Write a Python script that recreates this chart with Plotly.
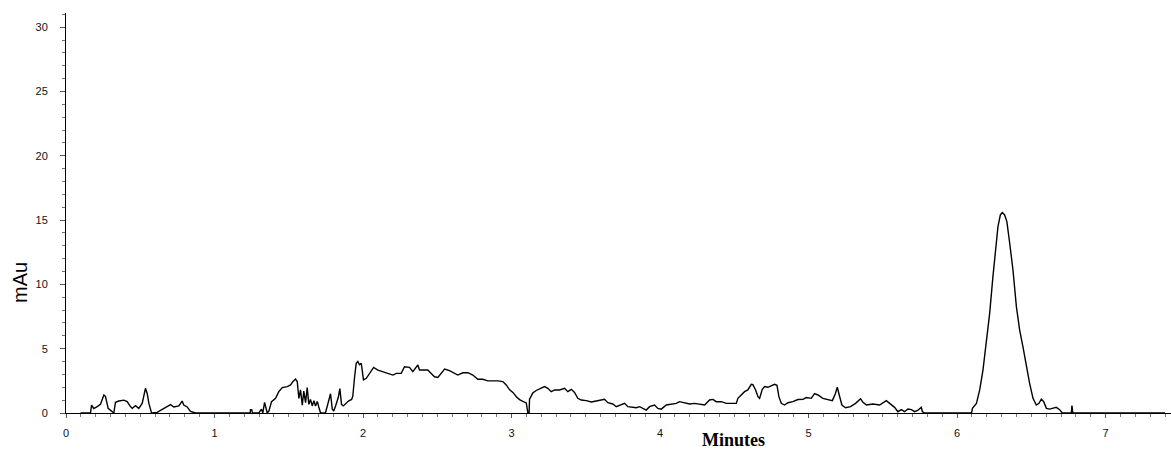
import plotly.graph_objects as go

# Retention time (minutes) and absorbance (mAu)
minutes = [
    0.098, 0.165, 0.172, 0.187, 0.210, 0.232, 0.255, 0.266, 0.284, 0.311, 0.322, 0.333,
    0.356, 0.389, 0.412, 0.434, 0.446, 0.468, 0.490, 0.513, 0.529, 0.535, 0.547, 0.558,
    0.576, 0.614, 0.648, 0.681, 0.704, 0.726, 0.760, 0.782, 0.793, 0.816, 0.838, 0.872,
    1.240, 1.242, 1.250, 1.256, 1.298, 1.316, 1.325, 1.337, 1.343, 1.355, 1.366, 1.384,
    1.411, 1.433, 1.456, 1.490, 1.512, 1.527, 1.545, 1.557, 1.568, 1.579, 1.591, 1.601,
    1.613, 1.624, 1.635, 1.646, 1.658, 1.669, 1.680, 1.692, 1.702, 1.714, 1.747, 1.759,
    1.770, 1.781, 1.793, 1.803, 1.815, 1.833, 1.844, 1.855, 1.867, 1.887, 1.904, 1.923,
    1.931, 1.943, 1.954, 1.965, 1.976, 1.988, 2.003, 2.022, 2.044, 2.071, 2.100, 2.133,
    2.167, 2.201, 2.224, 2.257, 2.279, 2.313, 2.335, 2.369, 2.380, 2.403, 2.436, 2.459,
    2.481, 2.504, 2.527, 2.549, 2.582, 2.616, 2.638, 2.672, 2.706, 2.739, 2.773, 2.807,
    2.840, 2.874, 2.908, 2.941, 2.964, 2.987, 3.009, 3.032, 3.054, 3.076, 3.099, 3.110,
    3.118, 3.121, 3.143, 3.166, 3.200, 3.222, 3.244, 3.267, 3.290, 3.323, 3.357, 3.379,
    3.402, 3.424, 3.446, 3.469, 3.503, 3.537, 3.570, 3.604, 3.626, 3.648, 3.682, 3.705,
    3.739, 3.761, 3.783, 3.817, 3.840, 3.862, 3.884, 3.907, 3.929, 3.963, 3.985, 4.008,
    4.042, 4.075, 4.109, 4.131, 4.165, 4.199, 4.232, 4.266, 4.300, 4.333, 4.356, 4.378,
    4.412, 4.446, 4.513, 4.524, 4.547, 4.569, 4.591, 4.614, 4.625, 4.643, 4.659, 4.670,
    4.688, 4.704, 4.726, 4.749, 4.771, 4.787, 4.800, 4.816, 4.838, 4.861, 4.894, 4.928,
    4.962, 4.985, 5.018, 5.040, 5.063, 5.096, 5.130, 5.160, 5.180, 5.193, 5.204, 5.224,
    5.249, 5.283, 5.316, 5.350, 5.366, 5.389, 5.433, 5.478, 5.523, 5.557, 5.579, 5.601,
    5.624, 5.646, 5.669, 5.692, 5.714, 5.734, 5.759, 5.766, 5.781,
    6.097, 6.103, 6.130, 6.152, 6.174, 6.197, 6.219, 6.241, 6.259, 6.275, 6.291, 6.304,
    6.320, 6.335, 6.354, 6.376, 6.399, 6.421, 6.443, 6.466, 6.488, 6.511, 6.533, 6.551,
    6.567, 6.583, 6.601, 6.623, 6.645, 6.668, 6.690, 6.708, 6.769, 6.773, 6.779, 7.400,
]
mau = [
    0.00, 0.00, 0.62, 0.35, 0.50, 0.68, 1.40, 1.28, 0.36, 0.10, 0.00, 0.83,
    0.93, 1.00, 0.88, 0.50, 0.36, 0.57, 0.36, 0.75, 1.79, 1.92, 1.50, 0.75,
    0.00, 0.05, 0.28, 0.47, 0.65, 0.47, 0.55, 0.93, 0.62, 0.47, 0.12, 0.00,
    0.00, 0.25, 0.25, 0.00, 0.00, 0.30, 0.00, 0.83, 0.50, 0.00, 0.15, 0.88,
    1.14, 1.66, 1.97, 2.05, 2.18, 2.44, 2.64, 2.44, 1.14, 1.80, 0.60, 1.70,
    0.80, 1.97, 0.67, 1.05, 0.55, 0.95, 0.55, 0.90, 0.47, 0.00, 0.00, 0.55,
    1.20, 1.50, 0.30, 0.15, 0.55, 1.20, 1.90, 0.67, 0.55, 0.80, 0.95, 1.05,
    1.30, 2.80, 3.86, 4.00, 3.75, 3.86, 2.57, 2.70, 3.08, 3.55, 3.34, 3.21,
    3.13, 2.95, 3.08, 3.08, 3.60, 3.55, 3.21, 3.73, 3.34, 3.34, 3.34, 3.08,
    2.82, 2.77, 3.08, 3.42, 3.29, 3.08, 2.95, 3.13, 3.13, 2.95, 2.62, 2.62,
    2.50, 2.50, 2.50, 2.44, 2.18, 1.80, 1.60, 1.27, 1.04, 0.90, 0.78, 0.00,
    0.00, 1.07, 1.55, 1.75, 1.93, 2.05, 1.92, 1.66, 1.79, 1.79, 1.92, 1.66,
    1.84, 1.60, 1.14, 1.01, 0.96, 0.86, 0.93, 1.01, 1.06, 0.80, 0.70, 0.49,
    0.62, 0.75, 0.49, 0.41, 0.41, 0.49, 0.36, 0.23, 0.49, 0.62, 0.36, 0.30,
    0.62, 0.70, 0.75, 0.88, 0.80, 0.70, 0.75, 0.67, 0.62, 1.01, 1.06, 0.88,
    0.88, 0.75, 0.75, 1.14, 1.40, 1.66, 1.79, 2.23, 2.20, 1.79, 1.27, 1.14,
    1.84, 2.05, 2.00, 2.10, 2.23, 2.15, 1.27, 0.75, 0.62, 0.80, 0.88, 1.05,
    1.06, 1.20, 1.14, 1.50, 1.40, 1.14, 1.06, 0.96, 1.50, 2.00, 1.50, 0.62,
    0.41, 0.49, 0.75, 1.10, 0.83, 0.62, 0.70, 0.62, 0.96, 0.62, 0.44, 0.10,
    0.26, 0.10, 0.31, 0.26, 0.10, 0.20, 0.44, 0.10, 0.00,
    0.00, 0.36, 0.75, 1.79, 3.34, 5.42, 7.75, 10.60, 12.67, 14.49, 15.40, 15.58,
    15.40, 14.88, 13.20, 11.12, 8.27, 6.45, 5.16, 3.60, 2.31, 1.14, 0.62, 0.75,
    1.07, 0.88, 0.36, 0.30, 0.36, 0.44, 0.26, 0.00, 0.00, 0.57, 0.00, 0.00,
]

x_tick_vals = [0, 1, 2, 3, 4, 5, 6, 7]
x_tick_text = ["0", "1", "2", "3", "4", "5", "6", "7"]
x_half_ticks = [0.5, 1.5, 2.5, 3.5, 4.5, 5.5, 6.5]
y_tick_vals = [0, 5, 10, 15, 20, 25, 30]
y_tick_text = ["0", "5", "10", "15", "20", "25", "30"]

x_range = [0, 7.44]
y_range = [0, 31.1]

tick_font = dict(family="Liberation Sans, Arial, sans-serif", size=11, color="#111111")

fig = go.Figure()
fig.add_trace(go.Scatter(
    x=minutes, y=mau, mode="lines",
    line=dict(color="black", width=1.4),
    hoverinfo="skip", showlegend=False,
))

fig.update_layout(
    width=1171, height=452,
    margin=dict(l=66, r=0, t=13, b=39),
    paper_bgcolor="white", plot_bgcolor="white",
    showlegend=False,
    xaxis=dict(
        range=x_range, showgrid=False, zeroline=False,
        showline=True, linecolor="black", linewidth=1,
        tickmode="array", tickvals=x_tick_vals, ticktext=x_tick_text,
        ticks="outside", ticklen=4, tickcolor="#555555", tickwidth=1,
        tickfont=tick_font, ticklabelstandoff=6,
        minor=dict(dtick=0.1, tick0=0, ticks="outside", ticklen=3,
                   tickcolor="#777777", showgrid=False),
    ),
    xaxis2=dict(
        range=x_range, overlaying="x", anchor="y", side="bottom",
        showgrid=False, zeroline=False, showline=False,
        tickmode="array", tickvals=x_half_ticks, showticklabels=False,
        ticks="outside", ticklen=6, tickcolor="#555555", tickwidth=1,
    ),
    yaxis=dict(
        range=y_range, showgrid=False, zeroline=False,
        showline=True, linecolor="black", linewidth=1,
        tickmode="array", tickvals=y_tick_vals, ticktext=y_tick_text,
        ticks="outside", ticklen=5, tickcolor="#555555", tickwidth=1,
        tickfont=tick_font, ticklabelstandoff=10,
        minor=dict(dtick=1, tick0=0, ticks="outside", ticklen=3,
                   tickcolor="#777777", showgrid=False),
    ),
    annotations=[
        dict(text="Minutes", xref="paper", yref="paper", x=0.604, y=-0.068,
             xanchor="center", yanchor="middle", showarrow=False,
             font=dict(family="Liberation Serif, Times New Roman, serif",
                       size=18, color="black", weight="bold")),
        dict(text="mAu", xref="paper", yref="paper", x=-0.0416, y=0.325,
             xanchor="center", yanchor="middle", showarrow=False, textangle=-90,
             font=dict(family="Liberation Sans, Arial, sans-serif", size=20,
                       color="black")),
    ],
)

fig.write_html("out.html")
